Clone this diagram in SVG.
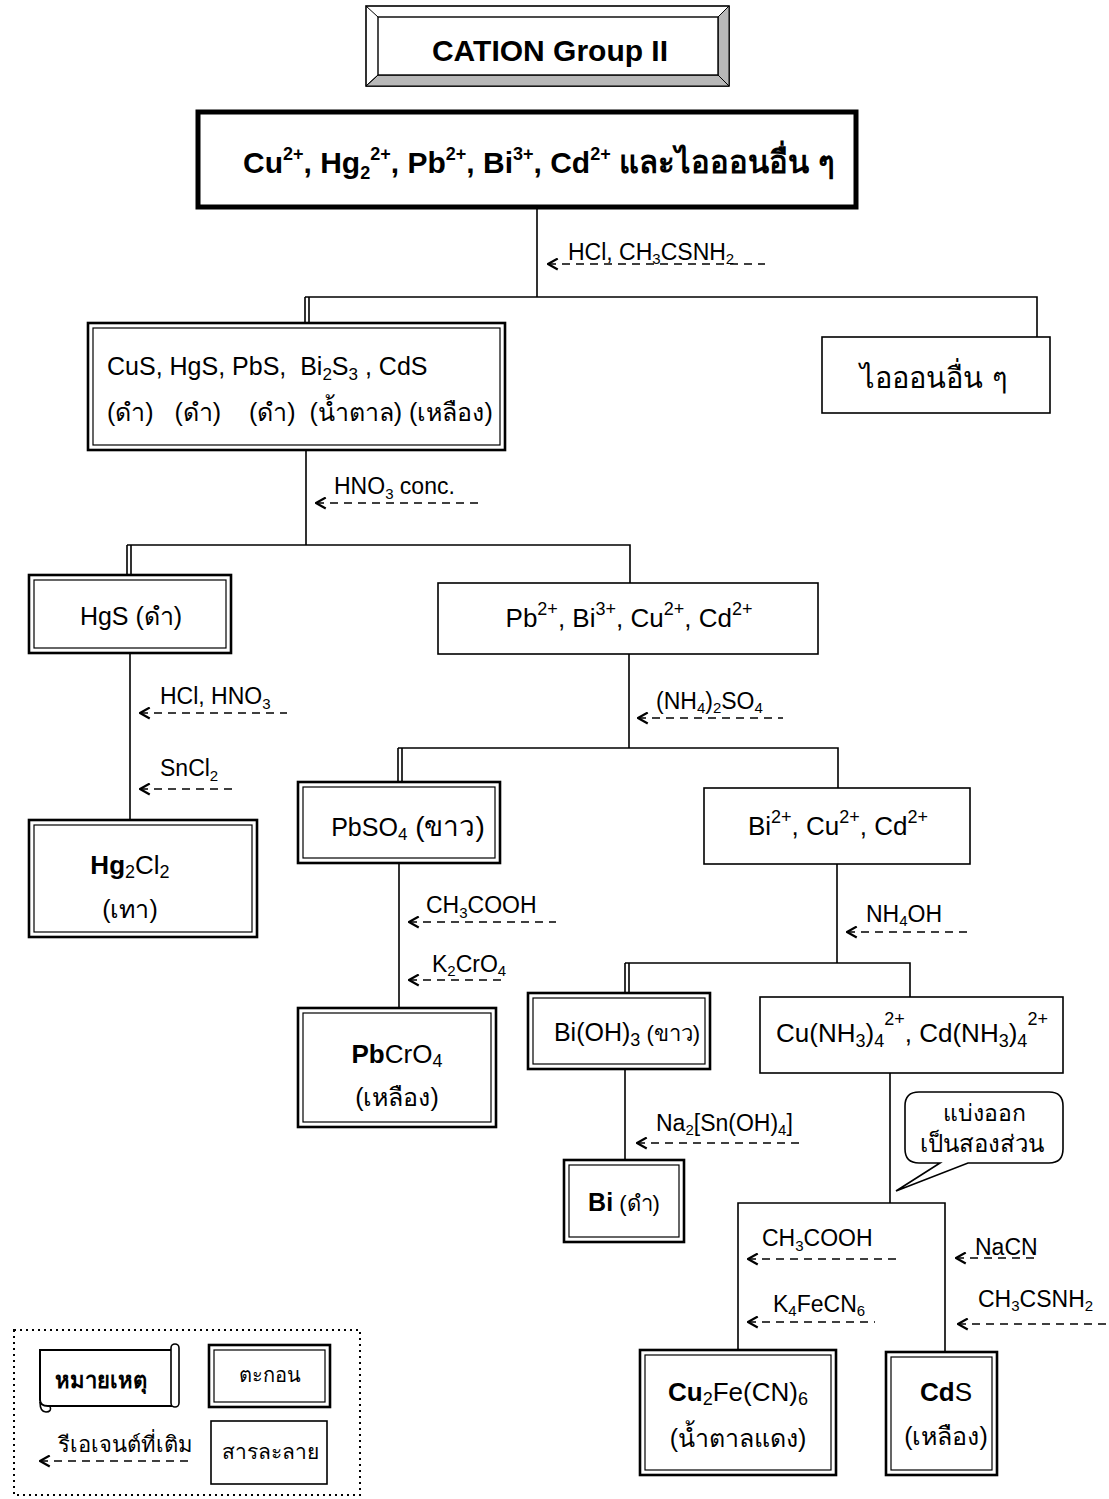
<svg xmlns="http://www.w3.org/2000/svg" width="1109" height="1499" viewBox="0 0 1109 1499">
  <style>
    .t { font-family: "Liberation Sans", Arial, "Noto Sans", sans-serif; fill: #000; }
    .n { font-size: 26px; }
    .r { font-size: 23px; }
    .b { font-weight: bold; }
    .ln { stroke: #000; stroke-width: 1.6; fill: none; }
    .dash { stroke: #000; stroke-width: 1.6; fill: none; stroke-dasharray: 8 6; marker-start: url(#chev); }
    .box { fill: #fff; stroke: #000; stroke-width: 1.6; }
    .dbo { fill: #fff; stroke: #000; stroke-width: 2.6; }
    .dbi { fill: none; stroke: #000; stroke-width: 1.2; }
  </style>
  <defs>
    <marker id="chev" viewBox="0 0 10 10" refX="9" refY="5" markerWidth="13" markerHeight="13" orient="auto-start-reverse" markerUnits="userSpaceOnUse">
      <path d="M1.5,0.8 L9,5 L1.5,9.2" fill="none" stroke="#000" stroke-width="1.7"/>
    </marker>
  </defs>
  <rect width="1109" height="1499" fill="#fff"/>

  <!-- title plaque with bevelled frame -->
  <g id="title">
    <rect x="366" y="6" width="363" height="80" fill="#fff" stroke="#000" stroke-width="1.6"/>
    <path d="M718,17 L729,6 L729,86 L718,75 Z" fill="#b8b8b8" stroke="#000" stroke-width="1"/>
    <path d="M378,75 L718,75 L729,86 L366,86 Z" fill="#b8b8b8" stroke="#000" stroke-width="1"/>
    <path d="M366,6 L378,17 M729,6 L718,17 M366,86 L378,75" stroke="#000" stroke-width="1"/>
    <rect x="378" y="17" width="340" height="58" fill="#fff" stroke="#000" stroke-width="1.4"/>
    <text class="t b" x="550" y="61" font-size="30" text-anchor="middle">CATION Group II</text>
  </g>

  <!-- connectors -->
  <g id="connectors">
    <path class="ln" d="M537,208 V297 M305,297 H1037 V337"/>
    <path class="ln" d="M305,297 V323 M309,297 V323"/>
    <path class="ln" d="M306,450 V545 M127,545 H630 V583"/>
    <path class="ln" d="M127,545 V575 M131,545 V575"/>
    <path class="ln" d="M130,653 V820"/>
    <path class="ln" d="M629,654 V748 M398,748 H838 V788"/>
    <path class="ln" d="M398,748 V782 M402,748 V782"/>
    <path class="ln" d="M399,863 V1008"/>
    <path class="ln" d="M837,864 V963 M625,963 H910 V997"/>
    <path class="ln" d="M625,963 V993 M629,963 V993"/>
    <path class="ln" d="M625,1069 V1160"/>
    <path class="ln" d="M890,1073 V1203 M738,1350 V1203 H945 V1352"/>

    <!-- reagent arrows -->
    <path class="dash" d="M548,264 H765"/>
    <path class="dash" d="M316,503 H478"/>
    <path class="dash" d="M140,713 H287"/>
    <path class="dash" d="M140,789 H232"/>
    <path class="dash" d="M638,718 H783"/>
    <path class="dash" d="M409,922 H556"/>
    <path class="dash" d="M409,980 H506"/>
    <path class="dash" d="M847,932 H968"/>
    <path class="dash" d="M637,1143 H805"/>
    <path class="dash" d="M748,1259 H900"/>
    <path class="dash" d="M748,1322 H875"/>
    <path class="dash" d="M956,1258 H1038"/>
    <path class="dash" d="M958,1324 H1106"/>
  </g>

  <!-- reagent labels -->
  <g id="reagents" class="t r">
    <text x="568" y="260">HCl, CH<tspan font-size="15" dy="4">3</tspan><tspan dy="-4">CSNH</tspan><tspan font-size="15" dy="4">2</tspan></text>
    <text x="334" y="494">HNO<tspan font-size="15" dy="5">3</tspan><tspan dy="-5"> conc.</tspan></text>
    <text x="160" y="704">HCl, HNO<tspan font-size="15" dy="5">3</tspan></text>
    <text x="160" y="776">SnCl<tspan font-size="15" dy="5">2</tspan></text>
    <text x="656" y="709">(NH<tspan font-size="15" dy="4">4</tspan><tspan dy="-4">)</tspan><tspan font-size="15" dy="4">2</tspan><tspan dy="-4">SO</tspan><tspan font-size="15" dy="4">4</tspan></text>
    <text x="426" y="913">CH<tspan font-size="15" dy="5">3</tspan><tspan dy="-5">COOH</tspan></text>
    <text x="432" y="972">K<tspan font-size="15" dy="4">2</tspan><tspan dy="-4">CrO</tspan><tspan font-size="15" dy="4">4</tspan></text>
    <text x="866" y="922">NH<tspan font-size="15" dy="4">4</tspan><tspan dy="-4">OH</tspan></text>
    <text x="656" y="1131">Na<tspan font-size="15" dy="4">2</tspan><tspan dy="-4">[Sn(OH)</tspan><tspan font-size="15" dy="4">4</tspan><tspan dy="-4">]</tspan></text>
    <text x="762" y="1246">CH<tspan font-size="15" dy="5">3</tspan><tspan dy="-5">COOH</tspan></text>
    <text x="773" y="1312">K<tspan font-size="15" dy="4">4</tspan><tspan dy="-4">FeCN</tspan><tspan font-size="15" dy="4">6</tspan></text>
    <text x="975" y="1255">NaCN</text>
    <text x="978" y="1307">CH<tspan font-size="15" dy="4">3</tspan><tspan dy="-4">CSNH</tspan><tspan font-size="15" dy="4">2</tspan></text>
  </g>

  <!-- starting solution -->
  <g id="start">
    <rect x="198" y="112" width="658" height="95" fill="#fff" stroke="#000" stroke-width="5"/>
    <text class="t b" x="243" y="173" font-size="30">Cu<tspan font-size="18" dy="-13">2+</tspan><tspan dy="13">, Hg</tspan><tspan font-size="18" dy="6">2</tspan><tspan font-size="18" dy="-19">2+</tspan><tspan dy="13">, Pb</tspan><tspan font-size="18" dy="-13">2+</tspan><tspan dy="13">, Bi</tspan><tspan font-size="18" dy="-13">3+</tspan><tspan dy="13">, Cd</tspan><tspan font-size="18" dy="-13">2+</tspan><tspan dy="13" font-size="31"> และไอออนอื่น ๆ</tspan></text>
  </g>

  <g id="sulfides">
    <rect class="dbo" x="88" y="323" width="417" height="127"/>
    <rect class="dbi" x="93" y="328" width="407" height="117"/>
    <text class="t" font-size="25" x="107" y="375" xml:space="preserve">CuS, HgS, PbS,  Bi<tspan font-size="17" dy="5">2</tspan><tspan dy="-5">S</tspan><tspan font-size="17" dy="5">3</tspan><tspan dy="-5"> , CdS</tspan></text>
    <text class="t" font-size="25" x="107" y="421" xml:space="preserve">(ดำ)   (ดำ)    (ดำ)  (น้ำตาล) (เหลือง)</text>
  </g>

  <g id="other-ions">
    <rect class="box" x="822" y="337" width="228" height="76"/>
    <text class="t" x="934" y="388" font-size="29" text-anchor="middle">ไอออนอื่น ๆ</text>
  </g>

  <g id="hgs">
    <rect class="dbo" x="29" y="575" width="202" height="78"/>
    <rect class="dbi" x="34" y="580" width="192" height="68"/>
    <text class="t" font-size="25" x="131" y="625" text-anchor="middle">HgS (ดำ)</text>
  </g>

  <g id="pb-bi-cu-cd">
    <rect class="box" x="438" y="583" width="380" height="71"/>
    <text class="t n" x="629" y="627" text-anchor="middle">Pb<tspan font-size="18" dy="-12">2+</tspan><tspan dy="12">, Bi</tspan><tspan font-size="18" dy="-12">3+</tspan><tspan dy="12">, Cu</tspan><tspan font-size="18" dy="-12">2+</tspan><tspan dy="12">, Cd</tspan><tspan font-size="18" dy="-12">2+</tspan></text>
  </g>

  <g id="hg2cl2">
    <rect class="dbo" x="29" y="820" width="228" height="117"/>
    <rect class="dbi" x="34" y="825" width="218" height="107"/>
    <text class="t n" x="130" y="874" text-anchor="middle"><tspan class="b">Hg</tspan><tspan font-size="18" dy="4">2</tspan><tspan dy="-4">Cl</tspan><tspan font-size="18" dy="4">2</tspan></text>
    <text class="t" font-size="25" x="130" y="918" text-anchor="middle">(เทา)</text>
  </g>

  <g id="pbso4">
    <rect class="dbo" x="298" y="782" width="202" height="81"/>
    <rect class="dbi" x="303" y="787" width="192" height="71"/>
    <text class="t" font-size="25" x="408" y="836" text-anchor="middle">PbSO<tspan font-size="17" dy="4">4</tspan><tspan dy="-4" font-size="28"> (ขาว)</tspan></text>
  </g>

  <g id="bi-cu-cd">
    <rect class="box" x="704" y="788" width="266" height="76"/>
    <text class="t n" x="838" y="835" text-anchor="middle">Bi<tspan font-size="18" dy="-12">2+</tspan><tspan dy="12">, Cu</tspan><tspan font-size="18" dy="-12">2+</tspan><tspan dy="12">, Cd</tspan><tspan font-size="18" dy="-12">2+</tspan></text>
  </g>

  <g id="pbcro4">
    <rect class="dbo" x="298" y="1008" width="198" height="119"/>
    <rect class="dbi" x="303" y="1013" width="188" height="109"/>
    <text class="t n" x="397" y="1063" text-anchor="middle"><tspan class="b">Pb</tspan>CrO<tspan font-size="18" dy="4">4</tspan></text>
    <text class="t" font-size="25" x="397" y="1106" text-anchor="middle">(เหลือง)</text>
  </g>

  <g id="bioh3">
    <rect class="dbo" x="528" y="993" width="182" height="76"/>
    <rect class="dbi" x="533" y="998" width="172" height="66"/>
    <text class="t" font-size="25" x="627" y="1041" text-anchor="middle">Bi(OH)<tspan font-size="18" dy="5">3</tspan><tspan dy="-5" font-size="22"> (ขาว)</tspan></text>
  </g>

  <g id="ammine">
    <rect class="box" x="760" y="997" width="303" height="76"/>
    <text class="t n" x="912" y="1042" text-anchor="middle">Cu(NH<tspan font-size="18" dy="5">3</tspan><tspan dy="-5">)</tspan><tspan font-size="18" dy="5">4</tspan><tspan font-size="18" dy="-22">2+</tspan><tspan dy="17">, Cd(NH</tspan><tspan font-size="18" dy="5">3</tspan><tspan dy="-5">)</tspan><tspan font-size="18" dy="5">4</tspan><tspan font-size="18" dy="-22">2+</tspan></text>
  </g>

  <g id="bi">
    <rect class="dbo" x="564" y="1160" width="120" height="82"/>
    <rect class="dbi" x="569" y="1165" width="110" height="72"/>
    <text class="t" font-size="25" x="624" y="1211" text-anchor="middle"><tspan class="b">Bi</tspan><tspan font-size="22"> (ดำ)</tspan></text>
  </g>

  <g id="split-note">
    <path d="M919,1092 H1049 Q1063,1092 1063,1106 V1149 Q1063,1163 1049,1163 H968 L896,1191 L940,1163 H919 Q905,1163 905,1149 V1106 Q905,1092 919,1092 Z" fill="#fff" stroke="#000" stroke-width="1.6"/>
    <text class="t" x="984" y="1121" font-size="23" text-anchor="middle">แบ่งออก</text>
    <text class="t" x="982" y="1152" font-size="24" text-anchor="middle">เป็นสองส่วน</text>
  </g>

  <g id="cu2fecn6">
    <rect class="dbo" x="640" y="1350" width="196" height="125"/>
    <rect class="dbi" x="645" y="1355" width="186" height="115"/>
    <text class="t n" x="738" y="1401" text-anchor="middle"><tspan class="b">Cu</tspan><tspan font-size="18" dy="4">2</tspan><tspan dy="-4">Fe(CN)</tspan><tspan font-size="18" dy="4">6</tspan></text>
    <text class="t" font-size="25" x="738" y="1447" text-anchor="middle">(น้ำตาลแดง)</text>
  </g>

  <g id="cds">
    <rect class="dbo" x="886" y="1352" width="111" height="123"/>
    <rect class="dbi" x="891" y="1357" width="101" height="113"/>
    <text class="t n" x="946" y="1401" text-anchor="middle"><tspan class="b">Cd</tspan>S</text>
    <text class="t" font-size="25" x="946" y="1445" text-anchor="middle">(เหลือง)</text>
  </g>

  <!-- legend -->
  <g id="legend">
    <rect x="14" y="1330" width="346" height="165" fill="none" stroke="#000" stroke-width="2" stroke-dasharray="2 4"/>
    <g id="legend-scroll">
      <path d="M42,1350 H172 V1406 H48 Q40,1406 40,1400 V1350 Z" fill="#fff" stroke="#000" stroke-width="2"/>
      <rect x="171" y="1344" width="8" height="63" rx="4" fill="#fff" stroke="#000" stroke-width="1.6"/>
      <path d="M40,1402 Q40,1412 46,1412 Q52,1412 50,1406" fill="none" stroke="#000" stroke-width="1.6"/>
      <text class="t b" x="101" y="1388" font-size="22" text-anchor="middle">หมายเหตุ</text>
    </g>
    <g id="legend-precipitate">
      <rect class="dbo" x="209" y="1345" width="121" height="62"/>
      <rect class="dbi" x="214" y="1350" width="111" height="52"/>
      <text class="t" x="270" y="1382" font-size="20" text-anchor="middle">ตะกอน</text>
    </g>
    <g id="legend-solution">
      <rect class="box" x="211" y="1421" width="116" height="63"/>
      <text class="t" x="270" y="1459" font-size="21" text-anchor="middle">สารละลาย</text>
    </g>
    <g id="legend-reagent">
      <path class="dash" d="M40,1461 H190"/>
      <text class="t" x="58" y="1452" font-size="22">รีเอเจนต์ที่เติม</text>
    </g>
  </g>
</svg>
